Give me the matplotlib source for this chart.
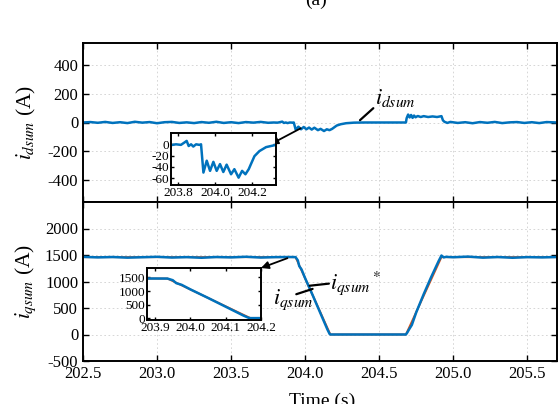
import matplotlib
matplotlib.use("Agg")
import matplotlib.pyplot as plt
import numpy as np

plt.rcParams['font.family'] = ['Liberation Serif', 'DejaVu Serif']
plt.rcParams['mathtext.fontset'] = 'stix'
plt.rcParams['axes.unicode_minus'] = False

# ---------------- data ----------------
t_d = [202.50, 202.55, 202.60, 202.65, 202.70, 202.75, 202.80, 202.85, 202.90, 202.95,
       203.00, 203.05, 203.10, 203.15, 203.20, 203.25, 203.30, 203.35, 203.40, 203.45,
       203.50, 203.55, 203.60, 203.65, 203.70, 203.75,
       203.787, 203.814, 203.832, 203.845, 203.856, 203.869, 203.881, 203.896, 203.914, 203.923,
       203.936, 203.954, 203.972, 203.990, 204.008, 204.026, 204.044, 204.062, 204.086, 204.104,
       204.127, 204.146, 204.164, 204.182,
       204.194, 204.213, 204.240, 204.276, 204.33, 204.40, 204.50, 204.60, 204.68,
       204.685, 204.695, 204.705, 204.715, 204.725, 204.735, 204.745, 204.76, 204.78, 204.80,
       204.83, 204.86, 204.89, 204.92, 204.93, 204.94, 204.96,
       204.98, 205.03, 205.08, 205.13, 205.18, 205.23, 205.28, 205.33, 205.38, 205.43, 205.48,
       205.53, 205.58, 205.63, 205.70]
i_dsum = [0, 3, -2, 4, -3, 2, -4, 5, -1, 3, -5, 2, 4, -3, 1, -4, 3, -2, 5, -3, 2, -4, 3, -1, 4, -2,
          0, -1, 3, 6, -3, 0, -4, 0, -1, 0,
          -50, -29, -47, -31, -47, -35, -49, -36, -53, -44, -59, -47, -53, -44,
          -35, -21, -12, -5, -1, 0, 0, 0, 0,
          30, 55, 35, 52, 32, 48, 36, 45, 38, 44, 38, 42, 38, 44, 15, 5, -3,
          4, -3, 2, -5, 3, -2, 4, -4, 1, 3, -3, 2, -4, 3, 0]

t_qref = [202.5, 203.935, 204.17, 204.68, 204.92, 205.7]
i_qref = [1460, 1460, 0, 0, 1460, 1460]

t_q = [202.5, 202.6, 202.7, 202.8, 202.9, 203.0, 203.1, 203.2, 203.3, 203.4, 203.5, 203.6,
       203.7, 203.8, 203.9, 203.935, 203.95, 203.96, 203.975, 204.0, 204.05, 204.1, 204.15,
       204.165, 204.17, 204.3, 204.5, 204.68, 204.69, 204.70, 204.72, 204.75, 204.8, 204.85,
       204.9, 204.92, 204.935, 204.95, 205.0, 205.1, 205.2, 205.3, 205.4, 205.5, 205.6, 205.7]
i_qsum = [1465, 1455, 1462, 1450, 1458, 1466, 1452, 1460, 1448, 1462, 1455, 1467, 1452, 1460,
          1462, 1460, 1400, 1290, 1230, 1060, 745, 420, 95, 10, 0, 0, 0, 0, 40, 90, 180, 420,
          760, 1080, 1380, 1490, 1455, 1465, 1458, 1470, 1450, 1462, 1448, 1460, 1455, 1462]

x_ticks = [202.5, 203.0, 203.5, 204.0, 204.5, 205.0, 205.5]
yd_ticks = [-400, -200, 0, 200, 400]
yq_ticks = [-500, 0, 500, 1000, 1500, 2000]
ins1_xticks = [203.8, 204.0, 204.2]
ins1_yticks = [-60, -40, -20, 0]
ins2_xticks = [203.9, 204.0, 204.1, 204.2]
ins2_yticks = [0, 500, 1000, 1500]

BLUE = '#0072BD'
ORANGE = '#D95319'

fig = plt.figure(figsize=(5.59, 4.04), dpi=100)
W, H = 559, 404

def px(l, t, r, b):
    return [l / W, 1 - b / H, (r - l) / W, (b - t) / H]

ax1 = fig.add_axes(px(83, 43, 557, 202))
ax2 = fig.add_axes(px(83, 202, 557, 361))

def style(ax, fs=12):
    ax.tick_params(direction='in', top=True, right=True, labelsize=fs, length=4, width=1.0)
    for s in ax.spines.values():
        s.set_linewidth(1.4)

for ax in (ax1, ax2):
    style(ax)
    ax.grid(True, color='#d0d0d0', linestyle=(0, (2, 3)), linewidth=0.6)
    ax.set_xlim(202.5, 205.7)
    ax.set_xticks(x_ticks)

ax1.plot(t_d, i_dsum, color=BLUE, lw=1.8)
ax1.set_ylim(-550, 550)
ax1.set_yticks(yd_ticks)
ax1.set_xticklabels([])
ax1.set_ylabel('$i_{dsum}$ (A)', fontsize=15.5)
ax1.yaxis.set_label_coords(-0.095, 0.5)

ax2.plot(t_qref, i_qref, color=ORANGE, lw=1.4)
ax2.plot(t_q, i_qsum, color=BLUE, lw=1.8)
ax2.set_ylim(-500, 2500)
ax2.set_yticks(yq_ticks)
ax2.set_xticklabels([f'{v:.1f}' for v in x_ticks])
ax2.set_ylabel('$i_{qsum}$ (A)', fontsize=15.5)
ax2.yaxis.set_label_coords(-0.095, 0.5)

# insets
in1 = fig.add_axes(px(171, 133, 276, 185))
in1.plot(t_d, i_dsum, color=BLUE, lw=1.8)
in1.set_xlim(203.76, 204.33)
in1.set_ylim(-72, 20)
in1.set_xticks(ins1_xticks)
in1.set_xticklabels([f'{v:.1f}' for v in ins1_xticks])
in1.set_yticks(ins1_yticks)
style(in1, fs=9.5)
in1.tick_params(pad=1.5, length=2.5)

in2 = fig.add_axes(px(147, 268, 261, 320))
in2.plot(t_qref, i_qref, color=ORANGE, lw=1.4)
in2.plot(t_q, i_qsum, color=BLUE, lw=1.8)
in2.set_xlim(203.877, 204.2)
in2.set_ylim(-70, 1850)
in2.set_xticks(ins2_xticks)
in2.set_xticklabels([f'{v:.1f}' for v in ins2_xticks])
in2.set_yticks(ins2_yticks)
style(in2, fs=9.5)
in2.tick_params(pad=1.5, length=2.5)

# annotations
arrow = dict(arrowstyle='-|>', color='k', lw=1.3, mutation_scale=11, shrinkA=0, shrinkB=0)
line = dict(arrowstyle='-', color='k', lw=1.6, shrinkA=0, shrinkB=0)

ax1.annotate('', xy=(204.3, 0), xycoords=in1.transData,
             xytext=(203.97, -40), textcoords='data', arrowprops=arrow)
ax1.annotate('', xy=(204.46, 99), xytext=(204.37, 16), arrowprops=line)
ax1.text(204.47, 169, '$i_{dsum}$', fontsize=16, va='center', ha='left')

ax2.annotate('', xy=(1.0, 1.0), xycoords=in2.transAxes,
             xytext=(203.88, 1440), textcoords='data', arrowprops=arrow)
ax2.annotate('', xy=(204.16, 960), xytext=(204.03, 920), arrowprops=line)
ax2.text(204.17, 960, '$i_{qsum}$$^*$', fontsize=16, va='center', ha='left')
ax2.annotate('', xy=(204.05, 860), xytext=(203.94, 760), arrowprops=line)
ax2.text(203.92, 660, '$i_{qsum}$', fontsize=16, va='center', ha='center')

fig.text(0.565, 1.0, '(a)', fontsize=14, ha='center', va='center')
fig.text(0.576, -0.004, 'Time (s)', fontsize=14, ha='center', va='baseline')

fig.savefig('out.png', dpi=100)
